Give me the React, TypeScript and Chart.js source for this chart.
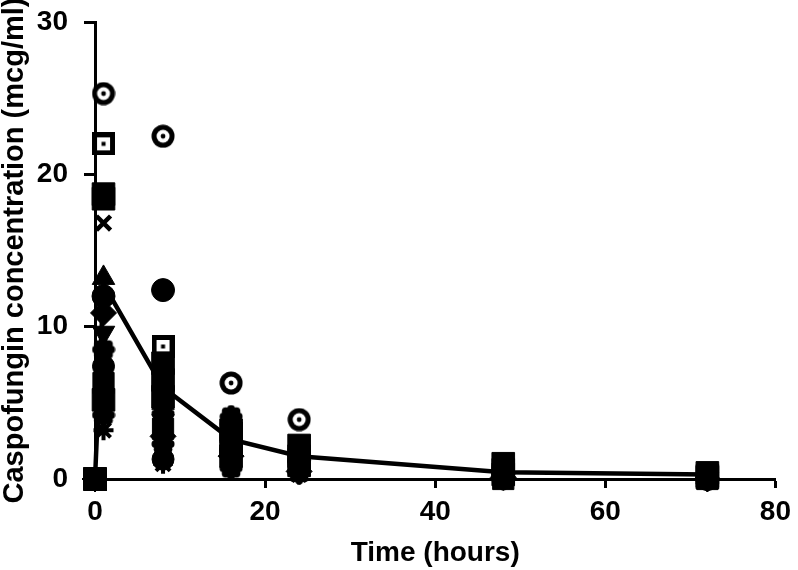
import React, { useEffect, useRef } from "react";
import { Chart, registerables } from "chart.js";

Chart.register(...registerables);

const times = [0, 1, 8, 16, 24, 48, 72];
const xTicks = [0, 20, 40, 60, 80];
const yTicks = [0, 10, 20, 30];
const meanValues = [0, 12.8, 6.0, 2.6, 1.5, 0.45, 0.3];

// individual patients, values at each time point
const pCircleDot = [0, 25.3, 22.5, 6.3, 3.9, 0.7, 0.2];
const pSquareDot = [0, 22.0, 8.7, 3.0, 1.4, 0.4, 0.2];
const pSquareA = [0, 18.7, 7.6, 3.2, 2.2, 1.0, 0.4];
const pSquareB = [0, 18.4, 6.5, 2.3, 1.5, 0.3, 0.2];
const pCross = [0, 16.8, 2.0, 2.4, 1.0, 0.2, 0.1];
const pTriangle = [0, 13.2, 5.0, 2.8, 1.6, 0.5, 0.1];
const pCircle = [0, 12.0, 12.4, 1.9, 1.2, 0.3, 0.0];
const pTriangleDown = [0, 9.6, 3.8, 1.8, 0.7, 0.2, 0.0];
const pDiamond = [0, 10.9, 2.8, 1.5, 0.5, 0.1, 0.0];
const pFlowerA = [0, 8.5, 4.3, 4.1, 1.9, 0.0, 0.0];
const pCircleB = [0, 7.4, 1.3, 3.6, 0.6, 0.2, 0.1];
const pSquareC = [0, 6.3, 3.3, 2.8, 1.2, 0.0, 0.0];
const pFlowerB = [0, 4.2, 2.3, 0.7, 0.4, 0.1, 0.0];
const pStar = [0, 3.2, 1.0, 0.8, 0.3, 0.0, 0.0];
const pSquareD = [0, 5.2, 5.4, 1.5, 0.9, 0.6, 0.1];

const FONT = "'Liberation Sans', Arial, Helvetica, sans-serif";

function makeCircleDot(): HTMLCanvasElement {
  const c = document.createElement("canvas");
  c.width = 24; c.height = 24;
  const g = c.getContext("2d")!;
  g.fillStyle = "#000";
  g.beginPath(); g.arc(12, 12, 11.5, 0, Math.PI * 2); g.fill();
  g.fillStyle = "#fff";
  g.beginPath(); g.arc(12, 12, 6.5, 0, Math.PI * 2); g.fill();
  g.fillStyle = "#000";
  g.beginPath(); g.arc(12, 12, 2.4, 0, Math.PI * 2); g.fill();
  return c;
}

function makeSquareDot(): HTMLCanvasElement {
  const c = document.createElement("canvas");
  c.width = 23; c.height = 23;
  const g = c.getContext("2d")!;
  g.fillStyle = "#000";
  g.fillRect(0, 0, 23, 23);
  g.fillStyle = "#fff";
  g.fillRect(5, 5, 13, 13);
  g.fillStyle = "#000";
  g.fillRect(9.5, 9.5, 4, 4);
  return c;
}

function makeFlower(): HTMLCanvasElement {
  const c = document.createElement("canvas");
  c.width = 24; c.height = 24;
  const g = c.getContext("2d")!;
  g.fillStyle = "#000";
  g.beginPath(); g.arc(12, 12, 8, 0, Math.PI * 2); g.fill();
  for (let k = 0; k < 8; k++) {
    const a = (k * Math.PI) / 4;
    g.beginPath();
    g.arc(12 + Math.cos(a) * 7.5, 12 + Math.sin(a) * 7.5, 4, 0, Math.PI * 2);
    g.fill();
  }
  return c;
}

export default function App() {
  const ref = useRef<HTMLCanvasElement | null>(null);

  useEffect(() => {
    if (!ref.current) return;
    const circleDot = makeCircleDot();
    const squareDot = makeSquareDot();
    const flower = makeFlower();
    const toPts = (vals: number[]) => times.map((t, i) => ({ x: t, y: vals[i] }));
    const pt = (vals: number[], style: any, radius: number, extra: any = {}) => ({
      type: "scatter" as const,
      data: toPts(vals),
      pointStyle: style,
      pointRadius: radius,
      backgroundColor: "#000",
      borderColor: "#000",
      borderWidth: 1,
      clip: false as any,
      ...extra,
    });

    // Chart.js draws the first dataset on top
    const chart = new Chart(ref.current, {
      type: "scatter",
      data: {
        datasets: [
          {
            type: "line",
            data: toPts(meanValues),
            borderColor: "#000",
            borderWidth: 4.5,
            pointRadius: 0,
            showLine: true,
            fill: false,
            tension: 0,
            clip: false as any,
          } as any,
          pt(pFlowerA, flower, 12),
          pt(pSquareD, "rect", 16),
          pt(pSquareA, "rect", 16),
          pt(pSquareB, "rect", 16),
          pt(pFlowerB, flower, 12),
          pt(pCircle, "circle", 11.5),
          pt(pCircleB, "circle", 11),
          pt(pSquareC, "rect", 15),
          pt(pTriangle, "triangle", 13),
          pt(pTriangleDown, "triangle", 13, { rotation: 180 }),
          pt(pDiamond, "rectRot", 13),
          pt(pStar, "star", 10, { borderWidth: 4 }),
          pt(pCross, "crossRot", 10, { borderWidth: 4.5 }),
          pt(pSquareDot, squareDot, 12),
          pt(pCircleDot, circleDot, 12),
        ] as any,
      },
      options: {
        animation: false,
        responsive: false,
        maintainAspectRatio: false,
        layout: { padding: { top: 22, right: 21, left: 0, bottom: 0 } },
        plugins: { legend: { display: false }, tooltip: { enabled: false } },
        scales: {
          x: {
            type: "linear",
            min: 0,
            max: 80,
            afterFit: (s: any) => { s.height = 91; },
            afterBuildTicks: (s: any) => { s.ticks = xTicks.map((v) => ({ value: v })); },
            ticks: { color: "#000", font: { family: FONT, size: 28, weight: "bold" }, padding: 7, maxRotation: 0 },
            grid: { drawOnChartArea: false, drawTicks: true, tickLength: 9, tickWidth: 3, tickColor: "#000", color: "#000" },
            border: { display: true, color: "#000", width: 3 },
            title: {
              display: true,
              text: "Time (hours)",
              color: "#000",
              font: { family: FONT, size: 28, weight: "bold", lineHeight: 1 },
              padding: { top: 0, bottom: 3 },
            },
          },
          y: {
            type: "linear",
            min: 0,
            max: 30,
            afterFit: (s: any) => { s.width = 95; s.paddingTop = 0; s.paddingBottom = 0; },
            afterBuildTicks: (s: any) => { s.ticks = yTicks.map((v) => ({ value: v })); },
            ticks: { color: "#000", font: { family: FONT, size: 28, weight: "bold" }, padding: 16 },
            grid: { drawOnChartArea: false, drawTicks: true, tickLength: 11, tickWidth: 3, tickColor: "#000", color: "#000" },
            border: { display: true, color: "#000", width: 3 },
            title: {
              display: true,
              text: "Caspofungin concentration (mcg/ml)",
              color: "#000",
              font: { family: FONT, size: 29, weight: "bold", lineHeight: 1 },
              padding: { top: 0, bottom: 0 },
            },
          },
        },
      } as any,
    });
    return () => chart.destroy();
  }, []);

  return (
    <div style={{ position: "absolute", left: 0, top: 0, width: 798, height: 570, background: "#fff" }}>
      <canvas ref={ref} width={798} height={570} style={{ width: 798, height: 570, display: "block" }} />
    </div>
  );
}
